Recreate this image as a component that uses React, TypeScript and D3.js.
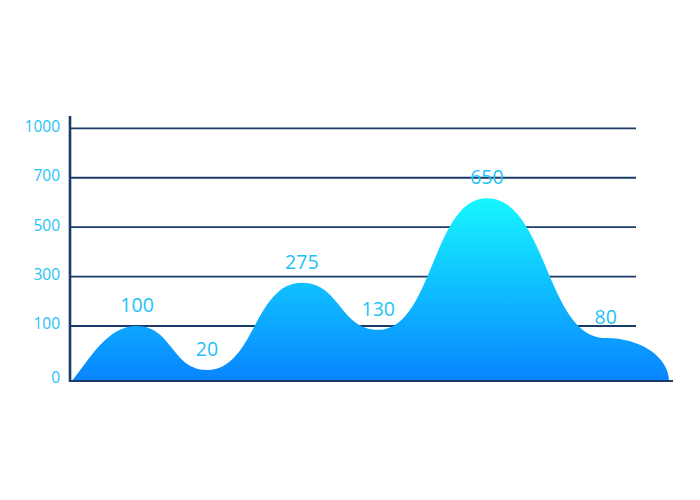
import React from "react";
import * as d3 from "d3";

// Axis tick labels (evenly spaced, non-linear values)
const yTicks = [0, 100, 300, 500, 700, 1000];
// Annotation values shown above the curve
const labelValues = [100, 20, 275, 130, 650, 80];
// Curve points: position along the x axis (0–100) and height in axis units
const curveX = [0, 10.9, 22.6, 38.5, 51.3, 69.5, 89.4, 100];
const curveY = [0, 100, 20, 275, 93, 617, 78, 0];
// Which curve point each label belongs to
const labelPoint = [1, 2, 3, 4, 5, 6];

const W = 700;
const H = 500;

// Custom curve: bump (horizontal tangents) inside, angled start, vertical end
function makeCurve(context: any) {
  let pts: [number, number][] = [];
  let line = NaN;
  return {
    areaStart() { line = 0; },
    areaEnd() { line = NaN; },
    lineStart() { pts = []; },
    lineEnd() {
      const n = pts.length;
      if (n) {
        if (line) context.lineTo(pts[0][0], pts[0][1]);
        else context.moveTo(pts[0][0], pts[0][1]);
        for (let i = 1; i < n; i++) {
          const [x0, y0] = pts[i - 1];
          const [x1, y1] = pts[i];
          const dx = x1 - x0, dy = y1 - y0;
          if (Math.abs(dy) < 1e-6) { context.lineTo(x1, y1); continue; }
          if (i === 1 && n > 2) {
            context.bezierCurveTo(x0 + dx * 0.3, y0 + dy * 0.45, x0 + dx * 0.55, y1, x1, y1);
          } else if (i === n - 1 && n > 2) {
            context.bezierCurveTo(x0 + dx * 0.552, y0, x1, y1 - dy * 0.552, x1, y1);
          } else {
            const xm = (x0 + x1) / 2;
            context.bezierCurveTo(xm, y0, xm, y1, x1, y1);
          }
        }
      }
      if (line) context.closePath();
      line = 1 - line;
    },
    point(x: number, y: number) { pts.push([+x, +y]); },
  };
}

export default function App() {
  const left = 70;
  const gridRight = 636;
  const baseRight = 673;
  const base = 381;
  const top = 128.3;
  const step = (326 - top) / 4;

  const y = d3
    .scaleLinear()
    .domain(yTicks)
    .range(yTicks.map((_, i) => (i === 0 ? base : 326 - (i - 1) * step)));
  const x = d3.scaleLinear().domain([0, 100]).range([72, 669]);

  const data = curveX.map((cx, i) => ({ x: cx, v: curveY[i] }));
  const area = d3
    .area<{ x: number; v: number }>()
    .x((d) => x(d.x))
    .y0(base)
    .y1((d) => y(d.v))
    .curve(makeCurve as any);

  const navy = "#1b3b68";
  const textBlue = "#1ec2f6";
  const font = "'Open Sans', 'Noto Sans', sans-serif";

  return (
    <svg width={W} height={H} style={{ display: "block", position: "absolute", left: 0, top: 0 }}>
      <defs>
        <linearGradient id="areaGrad" gradientUnits="userSpaceOnUse" x1="0" y1={y(617)} x2="0" y2={base}>
          <stop offset="0" stopColor="#16f6ff" />
          <stop offset="0.5" stopColor="#0fbdff" />
          <stop offset="1" stopColor="#0884ff" />
        </linearGradient>
      </defs>
      <rect x={0} y={0} width={W} height={H} fill="#ffffff" />
      {yTicks.slice(1).map((t) => (
        <line key={t} x1={left} x2={gridRight} y1={y(t)} y2={y(t)} stroke={navy} strokeWidth={1.8} />
      ))}
      <path d={area(data) || ""} fill="url(#areaGrad)" />
      <line x1={left} x2={baseRight} y1={base} y2={base} stroke={navy} strokeWidth={2.2} />
      <line x1={left} x2={left} y1={116} y2={base + 1} stroke={navy} strokeWidth={2.6} />
      {yTicks.map((t, i) => (
        <text
          key={t}
          x={60}
          y={i === 0 ? 378 : y(t) - 2}
          dy="0.35em"
          textAnchor="end"
          fontFamily={font}
          fontSize={15.5}
          fill={textBlue}
        >
          {t}
        </text>
      ))}
      {labelValues.map((v, i) => {
        const p = data[labelPoint[i]];
        return (
          <text
            key={i}
            x={x(p.x)}
            y={y(p.v) - 14}
            textAnchor="middle"
            fontFamily={font}
            fontSize={19.5}
            fill={textBlue}
          >
            {v}
          </text>
        );
      })}
    </svg>
  );
}
